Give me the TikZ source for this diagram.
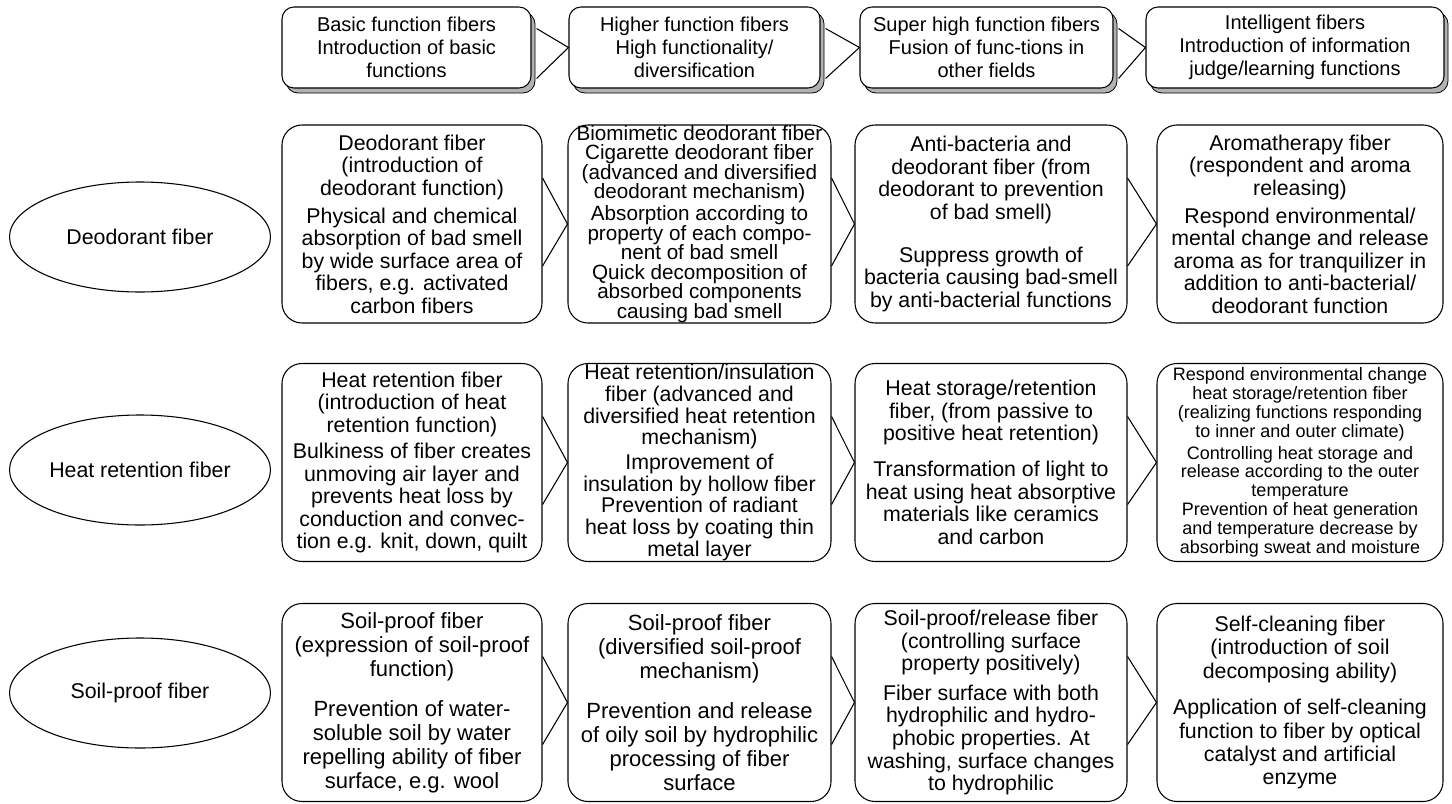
\documentclass[tikz,border=0pt]{standalone}
\usepackage{fontspec}
\setmainfont{Liberation Sans}
\usetikzlibrary{shapes.geometric,shadows,calc}
\begin{document}
\begin{tikzpicture}[x=0.75pt,y=-0.75pt,
  topbox/.style={draw=black, line width=0.8pt, fill=white, rounded corners=9pt, align=center, inner sep=0pt,
    minimum height=60.75pt, font=\fontsize{15}{17.2}\selectfont,
    general shadow={fill=gray!60, draw=black, line width=0.6pt, shadow xshift=3pt, shadow yshift=-3.75pt}},
  fbox/.style={draw=black, line width=0.8pt, rounded corners=15pt, align=center, inner sep=0pt,
    minimum height=148.5pt, font=\fontsize{16}{16.9}\selectfont},
  wA/.style={minimum width=195pt},
  wB/.style={minimum width=197.25pt},
  wC/.style={minimum width=204pt},
  wD/.style={minimum width=214.5pt},
  cat/.style={draw=black, ellipse, line width=0.8pt, minimum width=195.75pt, minimum height=82.5pt,
    inner sep=0pt, font=\fontsize{16}{18}\selectfont},
  chev/.style={draw=black, line width=0.8pt}]
\useasboundingbox (0,0) rectangle (1452,803);

% ---------- top row ----------
\node[topbox, minimum width=186.75pt] (t1) at (406.5,47.5) {Basic function fibers\\Introduction of basic\\functions};
\node[topbox, minimum width=188.25pt] (t2) at (694.5,47.5) {Higher function fibers\\High functionality/\\diversification};
\node[topbox, minimum width=189.75pt] (t3) at (986.5,47.5) {Super high function fibers\\Fusion of func-tions in\\other fields};
\node[topbox, minimum width=223.5pt] (t4) at (1295,47.5) {Intelligent fibers\\Introduction of information\\judge/learning functions};
\foreach \a/\b in {t1/t2,t2/t3,t3/t4}{
  \draw[chev] ($(\a.east)+(5,-19)$) -- (\b.west) -- ($(\a.east)+(5,31)$);
}

% ---------- categories ----------
\node[cat] (c1) at (140,237) {Deodorant fiber};
\node[cat] (c2) at (140,470) {Heat retention fiber};
\node[cat] (c3) at (140,693) {Soil-proof fiber};

% ---------- row 1: deodorant ----------
\node[fbox, wA] (a1) at (412,224) {Deodorant fiber\\(introduction of\\deodorant function)\\[4pt]
  Physical and chemical\\absorption of bad smell\\by wide surface area of\\fibers, e.g. activated\\carbon fibers};
\node[fbox, wB, font=\fontsize{15.5}{14.6}\selectfont] (a2) at (699.5,224) {Biomimetic deodorant fiber\\Cigarette deodorant fiber\\(advanced and diversified\\deodorant mechanism)\\[2pt]
  Absorption according to\\property of each compo-\\nent of bad smell\\Quick decomposition of\\absorbed components\\causing bad smell};
\node[fbox, wC] (a3) at (991,224) {Anti-bacteria and\\deodorant fiber (from\\deodorant to prevention\\of bad smell)\\[15pt]
  Suppress growth of\\bacteria causing bad-smell\\by anti-bacterial functions};
\node[fbox, wD] (a4) at (1300,224) {Aromatherapy fiber\\(respondent and aroma\\releasing)\\[4pt]
  Respond environmental/\\mental change and release\\aroma as for tranquilizer in\\addition to anti-bacterial/\\deodorant function};

% ---------- row 2: heat retention ----------
\node[fbox, wA] (b1) at (412,462.5) {Heat retention fiber\\(introduction of heat\\retention function)\\[3pt]
  Bulkiness of fiber creates\\unmoving air layer and\\prevents heat loss by\\conduction and convec-\\tion e.g. knit, down, quilt};
\node[fbox, wB, font=\fontsize{16}{16.3}\selectfont] (b2) at (699.5,462.5) {Heat retention/insulation\\fiber (advanced and\\diversified heat retention\\mechanism)\\[2pt]
  Improvement of\\insulation by hollow fiber\\Prevention of radiant\\heat loss by coating thin\\metal layer};
\node[fbox, wC] (b3) at (991,462.5) {Heat storage/retention\\fiber, (from passive to\\positive heat retention)\\[10pt]
  Transformation of light to\\heat using heat absorptive\\materials like ceramics\\and carbon};
\node[fbox, wD, font=\fontsize{13.5}{14.2}\selectfont] (b4) at (1300,462.5) {Respond environmental change\\heat storage/retention fiber\\(realizing functions responding\\to inner and outer climate)\\[2pt]
  Controlling heat storage and\\release according to the outer\\temperature\\Prevention of heat generation\\and temperature decrease by\\absorbing sweat and moisture};

% ---------- row 3: soil-proof ----------
\node[fbox, wA, font=\fontsize{16.5}{18}\selectfont] (s1) at (412,702.5) {Soil-proof fiber\\(expression of soil-proof\\function)\\[12pt]
  Prevention of water-\\soluble soil by water\\repelling ability of fiber\\surface, e.g. wool};
\node[fbox, wB, font=\fontsize{16.5}{18}\selectfont] (s2) at (699.5,702.5) {Soil-proof fiber\\(diversified soil-proof\\mechanism)\\[12pt]
  Prevention and release\\of oily soil by hydrophilic\\processing of fiber\\surface};
\node[fbox, wC, font=\fontsize{16}{17}\selectfont] (s3) at (991,702.5) {Soil-proof/release fiber\\(controlling surface\\property positively)\\[5pt]
  Fiber surface with both\\hydrophilic and hydro-\\phobic properties. At\\washing, surface changes\\to hydrophilic};
\node[fbox, wD, font=\fontsize{16}{17.5}\selectfont] (s4) at (1300,702.5) {Self-cleaning fiber\\(introduction of soil\\decomposing ability)\\[10pt]
  Application of self-cleaning\\function to fiber by optical\\catalyst and artificial\\enzyme};

% ---------- chevrons ----------
\foreach \r in {a,b,s}{
  \foreach \i/\j in {1/2,2/3,3/4}{
    \draw[chev] ($(\r\i.east)+(0,-46)$) -- (\r\j.west) -- ($(\r\i.east)+(0,42)$);
  }
}
\end{tikzpicture}
\end{document}
